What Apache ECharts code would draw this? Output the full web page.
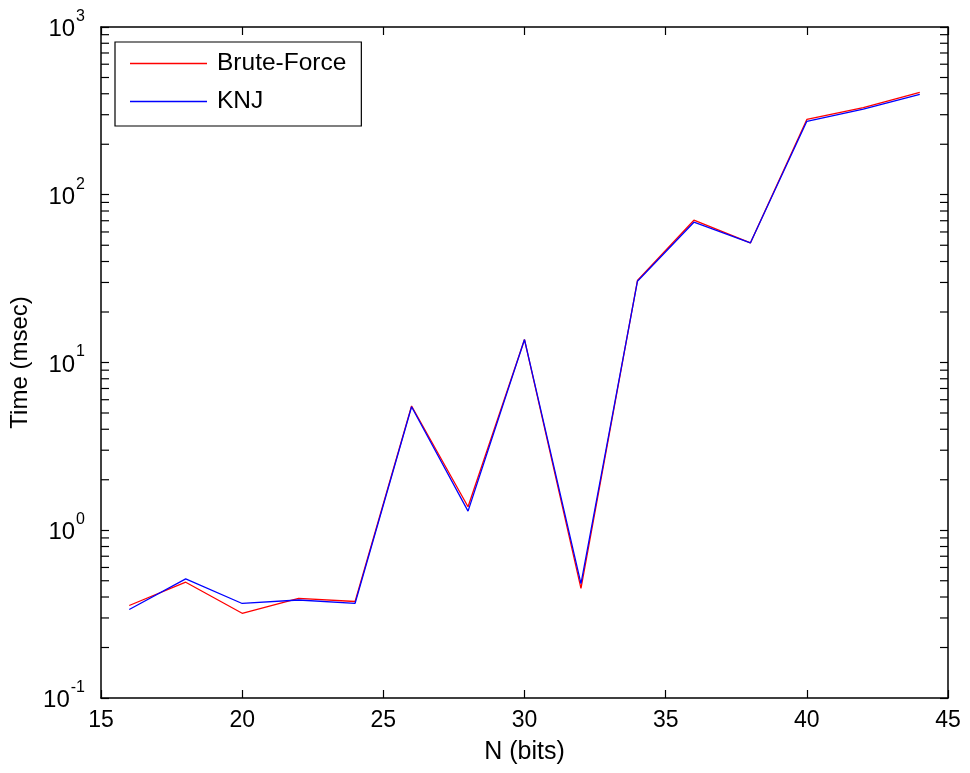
<!DOCTYPE html>
<html>
<head>
<meta charset="utf-8">
<script src="https://cdn.jsdelivr.net/npm/echarts@6/dist/echarts.min.js"></script>
<style>html,body{margin:0;padding:0;background:#fff}#c{width:970px;height:773px}</style>
</head>
<body>
<div id="c"></div>
<script>
var nBits = [16, 18, 20, 22, 24, 26, 28, 30, 32, 34, 36, 38, 40, 42, 44];
var bruteForce = [0.356, 0.49, 0.32, 0.393, 0.376, 5.5, 1.38, 13.7, 0.45, 30.8, 70.5, 51.6, 281, 331, 407];
var knj = [0.337, 0.513, 0.366, 0.384, 0.367, 5.45, 1.30, 13.7, 0.48, 30.5, 68.6, 51.6, 274, 324, 397];
var seriesNames = ['Brute-Force', 'KNJ'];
var seriesColors = ['#ff0000', '#0000ff'];
var xTicks = [15, 20, 25, 30, 35, 40, 45];
var yMinorTicks = [0.2,0.3,0.4,0.5,0.6,0.7,0.8,0.9,2,3,4,5,6,7,8,9,20,30,40,50,60,70,80,90,200,300,400,500,600,700,800,900];

var FONT = '"Liberation Sans", Arial, sans-serif';
var chart = echarts.init(document.getElementById('c'), null, {renderer: 'canvas'});

function mkX(show) {
  return {
    type: 'value', min: xTicks[0], max: xTicks[xTicks.length - 1], interval: 5,
    position: show ? 'bottom' : 'top',
    name: show ? 'N (bits)' : '', nameLocation: 'middle', nameGap: 42,
    nameTextStyle: {fontFamily: FONT, fontSize: 25, color: '#000'},
    axisLine: {show: true, onZero: false, lineStyle: {color: '#000', width: 1.5}},
    axisTick: {show: true, inside: true, length: 8, lineStyle: {color: '#000', width: 1.2}},
    axisLabel: {show: show, margin: 11, fontFamily: FONT, fontSize: 23, color: '#000'},
    splitLine: {show: false}
  };
}
function mkY(show) {
  return {
    type: 'log', logBase: 10, min: 0.1, max: 1000,
    position: show ? 'left' : 'right',
    name: show ? 'Time (msec)' : '', nameLocation: 'middle', nameGap: 68,
    nameTextStyle: {fontFamily: FONT, fontSize: 24, color: '#000'},
    axisLine: {show: true, onZero: false, lineStyle: {color: '#000', width: 1.5}},
    axisTick: {show: true, inside: true, length: 8, lineStyle: {color: '#000', width: 1.2}},
    axisLabel: {
      show: show, margin: 16,
      formatter: function (v) { return '{b|10}{s|' + Math.round(Math.log10(v)) + '}'; },
      rich: {
        b: {fontFamily: FONT, fontSize: 24, color: '#000', verticalAlign: 'bottom', padding: [0, 0, 4, 0]},
        s: {fontFamily: FONT, fontSize: 16, color: '#000', verticalAlign: 'bottom', padding: [0, 0, 21, 1]}
      }
    },
    splitLine: {show: false}
  };
}

chart.setOption({
  animation: false,
  backgroundColor: '#fff',
  color: seriesColors,
  grid: {left: 101, right: 22, top: 27, bottom: 75, containLabel: false},
  xAxis: [mkX(true), mkX(false)],
  yAxis: [mkY(true), mkY(false)],
  legend: {
    left: 115, top: 42, orient: 'vertical',
    data: seriesNames.map(function (n, i) {
      return {name: n, icon: 'rect', itemStyle: {color: seriesColors[i], borderWidth: 0}};
    }),
    itemWidth: 77, itemHeight: 1.3, itemGap: 13,
    padding: [9, 15, 12, 15],
    borderColor: '#000', borderWidth: 1.2, borderRadius: 0,
    backgroundColor: '#fff',
    textStyle: {fontFamily: FONT, fontSize: 24.5, color: '#000', lineHeight: 24, padding: [0, 0, 0, 5]}
  },
  series: [
    {
      name: seriesNames[0], type: 'line', symbol: 'none',
      data: nBits.map(function (x, i) { return [x, bruteForce[i]]; }),
      lineStyle: {color: seriesColors[0], width: 1.3}, itemStyle: {color: seriesColors[0]}, z: 3
    },
    {
      name: seriesNames[1], type: 'line', symbol: 'none',
      data: nBits.map(function (x, i) { return [x, knj[i]]; }),
      lineStyle: {color: seriesColors[1], width: 1.3}, itemStyle: {color: seriesColors[1]}, z: 4
    },
    {
      name: 'minorTicks', type: 'custom', silent: true, clip: false,
      data: yMinorTicks.map(function (v) { return [xTicks[0], v]; }),
      renderItem: function (params, api) {
        var p = api.coord([api.value(0), api.value(1)]);
        var cs = params.coordSys;
        var L = 8;
        return {
          type: 'group',
          children: [
            {type: 'line', shape: {x1: cs.x, y1: p[1], x2: cs.x + L, y2: p[1]}, style: {stroke: '#000', lineWidth: 1.2}},
            {type: 'line', shape: {x1: cs.x + cs.width - L, y1: p[1], x2: cs.x + cs.width, y2: p[1]}, style: {stroke: '#000', lineWidth: 1.2}}
          ]
        };
      }
    }
  ]
});
</script>
</body>
</html>
